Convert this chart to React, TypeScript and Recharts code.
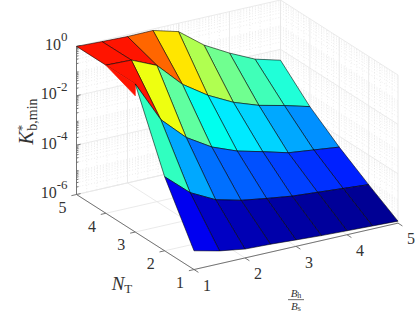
import React from 'react';
import { ScatterChart, Scatter, XAxis, YAxis } from 'recharts';

const WIDTH = 415;
const HEIGHT = 312;
const SERIF = '"Liberation Serif", "Times New Roman", serif';

const bandwidthRatios = [1, 1.5, 2, 2.5, 3, 3.5, 4, 4.5, 5];
const antennaCounts = [5, 4, 3, 2, 1];

// log10 of K*_b,min, one list per N_T
const logK_N5 = [0, -0.04, -0.07, -0.06, -0.34, -1.12, -1.68, -2.16, -2.44];
const logK_N4 = [0, -0.03, -0.48, -1.48, -2.16, -2.68, -3.04, -3.28, -3.56];
const logK_N3 = [0, -1.68, -2.64, -3.26, -3.66, -3.92, -4.2, -4.32, -4.44];
const logK_N2 = [-3.0, -3.88, -4.4, -4.66, -4.82, -4.96, -5.04, -5.12, -5.2];
const logK_N1 = [-5.24, -5.48, -5.64, -5.68, -5.74, -5.8, -5.84, -5.88, -5.92];
const surface = [logK_N5, logK_N4, logK_N3, logK_N2, logK_N1];

// the red sliver under the N_T = 4..3 edge at B = 1
const sliverLogK = -0.48;

const colorsN5 = ['#ff1400', '#ff1400', '#ff6600', '#ffe600', '#b0ff50', '#70ff90', '#40ffb8', '#20ffd8'];
const colorsN4 = ['#ff1400', '#eeff10', '#60ffa0', '#00ffee', '#00eaff', '#00d4ff', '#00a8ff', '#0090ff'];
const colorsN3 = ['#30ffc0', '#00a8ff', '#0070ff', '#0060ff', '#0050ff', '#0040ff', '#0030ff', '#0020ff'];
const colorsN2 = ['#0000f0', '#0000c4', '#0000b4', '#0000aa', '#0000a2', '#00009c', '#000098', '#000094'];
const facetColors = [colorsN5, colorsN4, colorsN3, colorsN2];

const zDecades = [-6, -5, -4, -3, -2, -1, 0];
const zTicks = [0, -2, -4, -6];
const xyTicks = [1, 2, 3, 4, 5];
const minorFactors = [2, 3, 4, 5, 6, 7, 8, 9];
const xyMinor = [1.2, 1.4, 1.6, 1.8, 2.2, 2.4, 2.6, 2.8, 3.2, 3.4, 3.6, 3.8, 4.2, 4.4, 4.6, 4.8];

// view of the box: where the corners land on the page
const project = (b: number, n: number, logK: number) => ({
    x: 194 + ((b - 1) / 4) * 204 + ((n - 1) / 4) * -117.5,
    y: 269 + ((b - 1) / 4) * -47 + ((n - 1) / 4) * -76 - ((logK + 6) / 6) * 150,
});

const seg = (a: number[], c: number[]) => [project(a[0], a[1], a[2]), project(c[0], c[1], c[2])];

const logMinors = zDecades
    .slice(0, -1)
    .flatMap(d => minorFactors.map(f => d + Math.log10(f)));

const majorGrid = [
    ...zTicks.flatMap(z => [...seg([1, 5, z], [5, 5, z]), ...seg([5, 5, z], [5, 1, z])]),
    ...xyTicks.flatMap(t => [
        ...seg([t, 5, -6], [t, 5, 0]),
        ...seg([5, t, -6], [5, t, 0]),
        ...seg([t, 5, -6], [t, 1, -6]),
        ...seg([1, t, -6], [5, t, -6]),
    ]),
];

const minorGrid = [
    ...logMinors.flatMap(z => [...seg([1, 5, z], [5, 5, z]), ...seg([5, 5, z], [5, 1, z])]),
    ...xyMinor.flatMap(t => [...seg([t, 5, -6], [t, 5, 0]), ...seg([5, t, -6], [5, t, 0])]),
];

const axisLines = [
    ...seg([1, 5, -6], [1, 5, 0]),
    ...seg([1, 5, -6], [1, 1, -6]),
    ...seg([1, 1, -6], [5, 1, -6]),
    ...zTicks.flatMap(z => seg([1, 5, z], [1.08, 5, z])),
    ...logMinors.flatMap(z => seg([1, 5, z], [1.04, 5, z])),
    ...xyTicks.flatMap(t => seg([1, t, -6], [0.9, t, -6])),
    ...xyTicks.flatMap(t => seg([t, 1, -6], [t, 0.85, -6])),
];

const noDot = () => <g />;

const segmentLine = (stroke: string, strokeWidth: number, dash?: string) => (props: any) => {
    const pts = props.points || [];
    let d = '';
    for (let i = 0; i + 1 < pts.length; i += 2) {
        d += `M${pts[i].x},${pts[i].y}L${pts[i + 1].x},${pts[i + 1].y}`;
    }
    return <path d={d} fill="none" stroke={stroke} strokeWidth={strokeWidth} strokeDasharray={dash} />;
};

const facetLine = (fill: string, stroke: string) => (props: any) => {
    const pts = (props.points || []).map((p: any) => `${p.x},${p.y}`).join(' ');
    return <polygon points={pts} fill={fill} stroke={stroke} strokeWidth={0.7} strokeLinejoin="round" />;
};

const facets: { key: string; corners: { x: number; y: number }[]; color: string; edge: string }[] = [];
facetColors.forEach((rowColors, r) => {
    for (let i = rowColors.length - 1; i >= 0; i--) {
        facets.push({
            key: `f${r}-${i}`,
            color: rowColors[i],
            edge: 'rgba(0,0,0,0.8)',
            corners: [
                project(bandwidthRatios[i], antennaCounts[r], surface[r][i]),
                project(bandwidthRatios[i + 1], antennaCounts[r], surface[r][i + 1]),
                project(bandwidthRatios[i + 1], antennaCounts[r + 1], surface[r + 1][i + 1]),
                project(bandwidthRatios[i], antennaCounts[r + 1], surface[r + 1][i]),
            ],
        });
    }
    if (r === 1) {
        facets.push({
            key: 'sliver',
            color: rowColors[0],
            edge: rowColors[0],
            corners: [
                project(1, 4, surface[1][0]),
                project(1, 3, surface[2][0]),
                project(1, 3, sliverLogK),
            ],
        });
    }
});

const zLabels = zTicks.map(z => {
    const p = project(1, 5, z);
    return { x: p.x - 9, y: p.y + 3.5, exp: String(z) };
});
const nLabels = xyTicks.map(t => {
    const p = project(1, t, -6);
    return { x: p.x - 14, y: p.y + 18.5, text: String(t) };
});
const bLabels = xyTicks.map(t => {
    const p = project(t, 1, -6);
    return { x: p.x + 13, y: p.y + 21.5, text: String(t) };
});

const ZTick = ({ cx, cy, payload }: any) => (
    <text x={cx} y={cy} textAnchor="end" fontFamily={SERIF} fontSize={16} fill="#333">
        10
        <tspan dy={-8.5} fontSize={13}>{payload.exp}</tspan>
    </text>
);

const PlainTick = ({ cx, cy, payload }: any) => (
    <text x={cx} y={cy} textAnchor="middle" fontFamily={SERIF} fontSize={16} fill="#333">
        {payload.text}
    </text>
);

const ZTitle = ({ cx, cy }: any) => (
    <text
        transform={`rotate(-90 ${cx} ${cy})`}
        x={cx}
        y={cy}
        textAnchor="middle"
        fontFamily={SERIF}
        fontSize={20}
        fill="#333"
    >
        <tspan fontStyle="italic">K</tspan>
        <tspan dy={-7} fontSize={13}>*</tspan>
        <tspan dy={11} dx={-6} fontSize={14}>b,min</tspan>
    </text>
);

const NTitle = ({ cx, cy }: any) => (
    <text x={cx} y={cy} textAnchor="middle" fontFamily={SERIF} fontSize={19} fill="#333">
        <tspan fontStyle="italic">N</tspan>
        <tspan dy={3} fontSize={13}>T</tspan>
    </text>
);

const BTitle = ({ cx, cy }: any) => (
    <g fontFamily={SERIF} fill="#333">
        <text x={cx} y={cy - 3} textAnchor="middle" fontSize={11}>
            <tspan fontStyle="italic">B</tspan>
            <tspan dy={1} fontSize={8}>h</tspan>
        </text>
        <line x1={cx - 8} x2={cx + 8} y1={cy} y2={cy} stroke="#444" strokeWidth={0.8} />
        <text x={cx} y={cy + 10} textAnchor="middle" fontSize={11}>
            <tspan fontStyle="italic">B</tspan>
            <tspan dy={1} fontSize={8}>s</tspan>
        </text>
    </g>
);

export default function App() {
    return (
        <div style={{ position: 'absolute', left: 0, top: 0, width: WIDTH, height: HEIGHT, background: '#fff' }}>
            <ScatterChart width={WIDTH} height={HEIGHT} margin={{ top: 0, right: 0, bottom: 0, left: 0 }}>
                <XAxis type="number" dataKey="x" domain={[0, WIDTH]} hide />
                <YAxis type="number" dataKey="y" domain={[0, HEIGHT]} reversed hide />

                <Scatter data={minorGrid} line={segmentLine('#e0e0e0', 0.6, '1 2')} shape={noDot} isAnimationActive={false} />
                <Scatter data={majorGrid} line={segmentLine('#e8e8e8', 0.9)} shape={noDot} isAnimationActive={false} />
                <Scatter data={axisLines} line={segmentLine('#666', 0.9)} shape={noDot} isAnimationActive={false} />

                {facets.map(f => (
                    <Scatter
                        key={f.key}
                        data={f.corners}
                        line={facetLine(f.color, f.edge)}
                        shape={noDot}
                        isAnimationActive={false}
                    />
                ))}

                <Scatter data={zLabels} shape={ZTick} isAnimationActive={false} />
                <Scatter data={nLabels} shape={PlainTick} isAnimationActive={false} />
                <Scatter data={bLabels} shape={PlainTick} isAnimationActive={false} />
                <Scatter data={[{ x: 33, y: 119 }]} shape={ZTitle} isAnimationActive={false} />
                <Scatter data={[{ x: 122, y: 290 }]} shape={NTitle} isAnimationActive={false} />
                <Scatter data={[{ x: 296, y: 299.5 }]} shape={BTitle} isAnimationActive={false} />
            </ScatterChart>
        </div>
    );
}
